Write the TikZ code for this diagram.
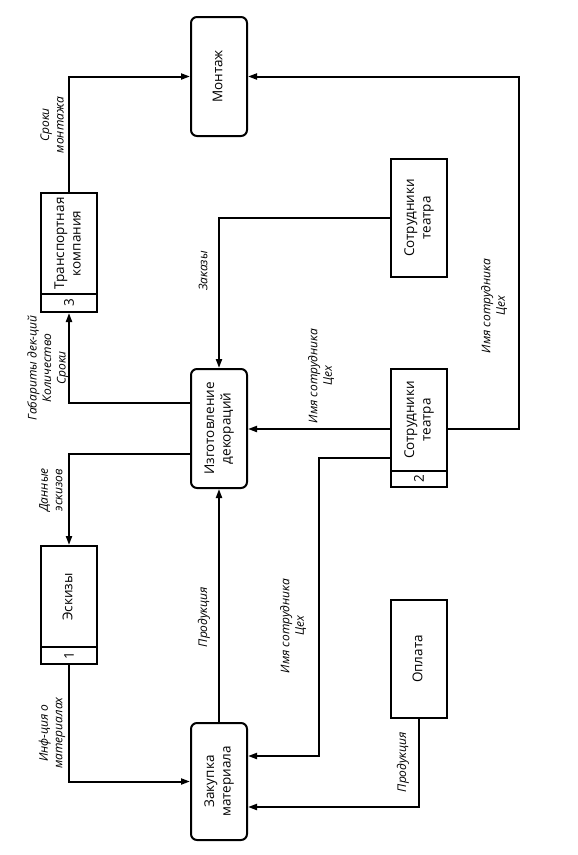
\documentclass[tikz,border=0pt]{standalone}
\usepackage{fontspec}
\setmainfont{Open Sans}
\usetikzlibrary{arrows.meta}
\tikzset{
  box/.style={draw, line width=2pt, inner sep=0pt, font=\fontsize{13.5}{16.5}\selectfont},
  proc/.style={box, rounded corners=6pt},
  ent/.style={box},
  arr/.style={line width=2pt, -{Triangle[length=9pt,width=6pt]}},
  ln/.style={line width=2pt},
  lbl/.style={font=\fontsize{12}{14.5}\selectfont\itshape, rotate=90, align=center, inner sep=0pt},
  num/.style={font=\fontsize{13.5}{16}\selectfont, rotate=90, inner sep=0pt}
}
\newcommand{\rt}[1]{\rotatebox{90}{\begin{tabular}{@{}c@{}}#1\end{tabular}}}
\begin{document}
\begin{tikzpicture}[x=1pt,y=-1pt]
\useasboundingbox (0,0) rectangle (578,855);
% processes
\node[proc, minimum width=56pt, minimum height=119pt] (mont) at (219,76.5) {\rt{Монтаж}};
\node[proc, minimum width=56pt, minimum height=119pt] (izg) at (219,428.5) {\rt{Изготовление\\декораций}};
\node[proc, minimum width=56pt, minimum height=117pt] (zak) at (219,781.5) {\rt{Закупка\\материала}};
% stores
\node[ent, minimum width=56pt, minimum height=119pt] (trans) at (69,252.5) {};
\node[ent, minimum width=56pt, minimum height=118pt] (esk) at (69,605) {};
\node[ent, minimum width=56pt, minimum height=118pt] (sot2) at (419,428) {};
\draw[ln] (trans.west |- 0,294) -- (trans.east |- 0,294);
\draw[ln] (esk.west |- 0,647) -- (esk.east |- 0,647);
\draw[ln] (sot2.west |- 0,471) -- (sot2.east |- 0,471);
\node[inner sep=0pt, font=\fontsize{13.5}{16.5}\selectfont] (transT) at (69,243.5) {\rt{Транспортная\\компания}};
\node[num] (transN) at (69,303) {3};
\node[inner sep=0pt, font=\fontsize{13.5}{16.5}\selectfont] (eskT) at (69,597) {\rt{Эскизы}};
\node[num] (eskN) at (69,655.5) {1};
\node[inner sep=0pt, font=\fontsize{13.5}{16.5}\selectfont] (sot2T) at (419,420) {\rt{Сотрудники\\театра}};
\node[num] (sot2N) at (419,479) {2};
% external entities
\node[ent, minimum width=56pt, minimum height=118pt] (sot1) at (419,218) {\rt{Сотрудники\\театра}};
\node[ent, minimum width=56pt, minimum height=118pt] (opl) at (419,659) {\rt{Оплата}};
% connectors
\coordinate (rc) at (519,429);
\coordinate (c2) at (319,756);
\draw[arr] (trans.north) |- (mont.west);
\draw[arr] (sot2.east |- rc) -- (rc) |- (mont.east);
\draw[arr] (izg.west |- 0,403) -| (trans.south);
\draw[arr] (izg.west |- 0,454) -| (esk.north);
\draw[arr] (esk.south) |- (zak.west);
\draw[arr] (zak.north) -- (izg.south);
\draw[arr] (sot1.west) -| (izg.north);
\draw[arr] (sot2.west |- rc) -- (izg.east |- rc);
\draw[arr] (sot2.west |- 0,458) -| (c2) -- (zak.east |- c2);
\draw[arr] (opl.south) |- (zak.east |- 0,807);
% labels
\node[lbl] (l1) at (52,125) {Сроки\\монтажа};
\node[lbl] (l2) at (203,271) {Заказы};
\node[lbl] (l3) at (48,368) {Габариты дек-ций\\Количество\\Сроки};
\node[lbl] (l4) at (51,490) {Данные\\эскизов};
\node[lbl] (l5) at (321,376) {Имя сотрудника\\Цех};
\node[lbl] (l6) at (494,306) {Имя сотрудника\\Цех};
\node[lbl] (l7) at (293,626) {Имя сотрудника\\Цех};
\node[lbl] (l8) at (204,617) {Продукция};
\node[lbl] (l9) at (52,733) {Инф-ция о\\материалах};
\node[lbl] (l10) at (403,762) {Продукция};
\end{tikzpicture}
\end{document}
